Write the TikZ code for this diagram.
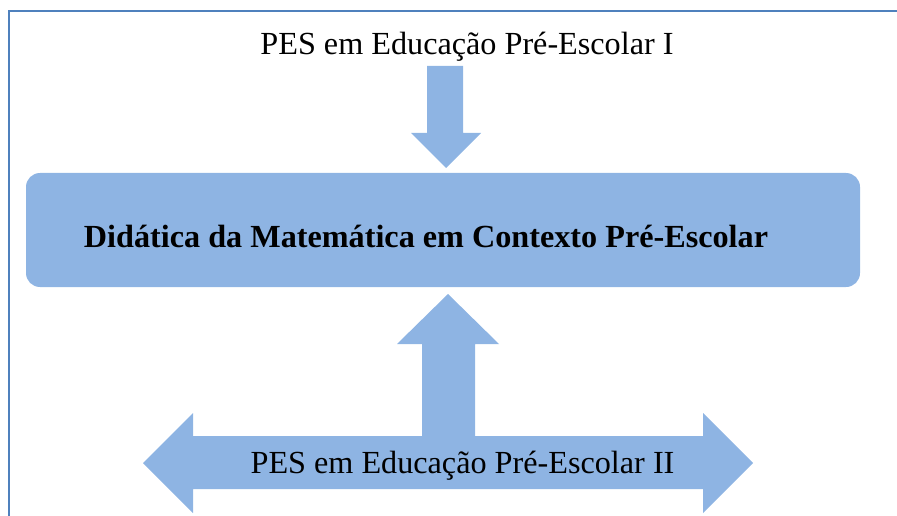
\documentclass[tikz,border=0pt]{standalone}
\usepackage{fontspec}
\setmainfont{Liberation Serif}
\definecolor{shapefill}{RGB}{142,180,227}
\definecolor{framecol}{RGB}{79,129,189}
\begin{document}
\begin{tikzpicture}[x=1pt,y=-1pt,
  lbl/.style={inner sep=0pt,anchor=base,font=\fontsize{32.2}{38}\selectfont},
  arrowshape/.style={fill=shapefill,draw=none},
  framestyle/.style={draw=framecol,line width=1.5pt}]
\useasboundingbox (0,0) rectangle (897,516);
% frame
\coordinate (fb) at (9,516);
\coordinate (ft) at (9,11);
\coordinate (fr) at (897,11);
\draw[framestyle] (fb) -- (ft) -- (fr);
% top label
\node[lbl] (top) at (467,55) {PES em Educação Pré-Escolar I};
% down arrow
\fill[arrowshape] (427,66) -- (463,66) -- (463,133) -- (481,133) -- (446,168) -- (411,133) -- (427,133) -- cycle;
% main box
\node[fill=shapefill,rounded corners=14pt,minimum width=834pt,minimum height=114pt,inner sep=0pt] (box) at (443,230) {};
\node[lbl,font=\fontsize{32.2}{38}\selectfont\bfseries] (boxtext) at (426,247) {Didática da Matemática em Contexto Pré-Escolar};
% bottom double arrow with up arrow
\fill[arrowshape] (143,463) -- (193,413) -- (193,436) -- (422,436) -- (422,344) -- (397,344) -- (448,294) -- (499,344) -- (475,344) -- (475,436) -- (703,436) -- (703,413) -- (753,463) -- (703,513) -- (703,489) -- (193,489) -- (193,513) -- cycle;
\node[lbl] (bottom) at (462.5,473) {PES em Educação Pré-Escolar II};
\end{tikzpicture}
\end{document}
